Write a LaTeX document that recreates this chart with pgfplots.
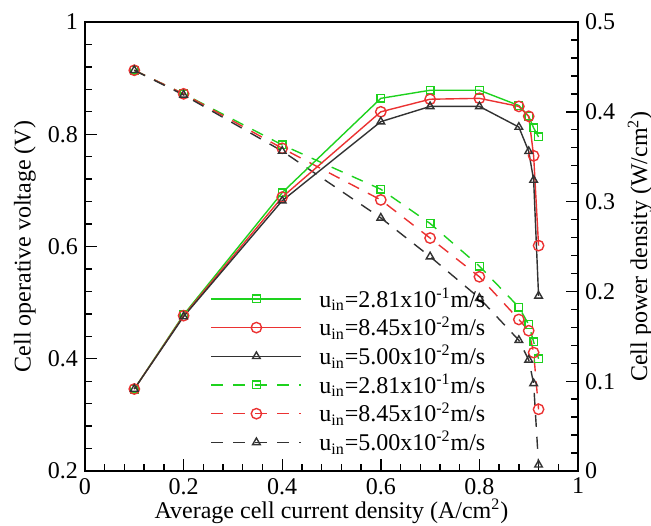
\documentclass[border=0pt]{standalone}
\usepackage{fontspec}
\setmainfont{Liberation Serif}
\usepackage{pgfplots}
\pgfplotsset{compat=1.18}
\definecolor{cgreen}{RGB}{30,210,30}
\definecolor{cred}{RGB}{235,50,50}
\definecolor{cblack}{RGB}{50,50,50}
\begin{document}
\begin{tikzpicture}
\pgfplotsset{
  common/.style={
    scale only axis, width=246.5pt, height=224.5pt,
    xmin=0, xmax=1,
    tick align=inside,
    major tick length=6pt, minor tick length=3.5pt,
    every tick/.style={black, line width=0.7pt},
    axis line style={line width=1.1pt},
    tick label style={font=\fontsize{12}{14}\selectfont},
    label style={font=\fontsize{12}{14}\selectfont},
    /pgf/number format/assume math mode=true,
  },
  vline/.style={dash pattern=on 6pt off 5pt, line width=0.7pt},
  pline/.style={solid, line width=0.7pt},
}
% Voltage axis (left)
\begin{axis}[common,
  ymin=0.2, ymax=1,
  xtick={0,0.2,0.4,0.6,0.8,1},
  ytick={0.2,0.4,0.6,0.8,1},
  minor x tick num=4, minor y tick num=4,
  xtick pos=bottom, ytick pos=left,
  xlabel={Average cell current density (A/cm\textsuperscript{2})},
  ylabel={Cell operative voltage (V)},
  xlabel style={at={(axis description cs:0.5,0)}, anchor=base, yshift=-23.5pt},
  ylabel style={at={(axis description cs:-0.1217,0.5)}, anchor=center},
]
\addplot[cgreen, vline, mark=square, mark size=1.9pt, mark options={solid}] coordinates {
(0.1,0.914) (0.2,0.872) (0.4,0.781) (0.6,0.702) (0.7,0.641) (0.8,0.565) (0.88,0.492) (0.9,0.461) (0.91,0.430) (0.92,0.400)};
\addplot[cred, vline, mark=o, mark size=2.6pt, mark options={solid}] coordinates {
(0.1,0.914) (0.2,0.872) (0.4,0.775) (0.6,0.683) (0.7,0.615) (0.8,0.546) (0.88,0.470) (0.9,0.450) (0.91,0.411) (0.92,0.310)};
\addplot[cblack, vline, mark=triangle, mark size=2.2pt, mark options={solid}] coordinates {
(0.1,0.914) (0.2,0.870) (0.4,0.770) (0.6,0.651) (0.7,0.582) (0.8,0.508) (0.88,0.433) (0.9,0.398) (0.91,0.356) (0.92,0.211)};
\end{axis}
% Power axis (right)
\begin{axis}[common,
  ymin=0, ymax=0.5,
  axis x line=none,
  axis y line*=right,
  ytick={0,0.1,0.2,0.3,0.4,0.5},
  yticklabels={0,0.1,0.2,0.3,0.4,0.5},
  minor y tick num=4,
  ylabel={Cell power density (W/cm\textsuperscript{2})},
  ylabel style={at={(axis description cs:1.1258,0.5)}, anchor=center},
  legend cell align=left,
  legend style={at={(0.242,0.425)}, anchor=north west, draw=none, fill=none,
    font=\fontsize{12}{14}\selectfont, row sep=0pt,
    nodes={inner sep=1.6pt},
    /tikz/every odd column/.append style={column sep=7pt}},
  legend image code/.code={\draw[mark repeat=2,mark phase=2] plot coordinates {(0pt,0pt)(22.5pt,0pt)(45pt,0pt)};},
]
\addplot[cgreen, pline, mark=square, mark size=1.9pt] coordinates {
(0.1,0.0913) (0.2,0.174) (0.4,0.310) (0.6,0.415) (0.7,0.424) (0.8,0.424) (0.88,0.407) (0.9,0.395) (0.91,0.382) (0.92,0.372)};
\addlegendentry{u\textsubscript{in}=2.81x10\textsuperscript{-1}m/s}
\addplot[cred, pline, mark=o, mark size=2.6pt] coordinates {
(0.1,0.0913) (0.2,0.173) (0.4,0.305) (0.6,0.400) (0.7,0.414) (0.8,0.415) (0.88,0.406) (0.9,0.395) (0.91,0.351) (0.92,0.251)};
\addlegendentry{u\textsubscript{in}=8.45x10\textsuperscript{-2}m/s}
\addplot[cblack, pline, mark=triangle, mark size=2.2pt] coordinates {
(0.1,0.0913) (0.2,0.172) (0.4,0.301) (0.6,0.389) (0.7,0.406) (0.8,0.406) (0.88,0.383) (0.9,0.356) (0.91,0.324) (0.92,0.195)};
\addlegendentry{u\textsubscript{in}=5.00x10\textsuperscript{-2}m/s}
\addlegendimage{cgreen, vline, mark=square, mark size=1.9pt, mark options={solid}}
\addlegendentry{u\textsubscript{in}=2.81x10\textsuperscript{-1}m/s}
\addlegendimage{cred, vline, mark=o, mark size=2.6pt, mark options={solid}}
\addlegendentry{u\textsubscript{in}=8.45x10\textsuperscript{-2}m/s}
\addlegendimage{cblack, vline, mark=triangle, mark size=2.2pt, mark options={solid}}
\addlegendentry{u\textsubscript{in}=5.00x10\textsuperscript{-2}m/s}
\end{axis}
\pgfresetboundingbox
\useasboundingbox (-42.5pt,-27pt) rectangle (283pt,235.5pt);
\end{tikzpicture}
\end{document}
